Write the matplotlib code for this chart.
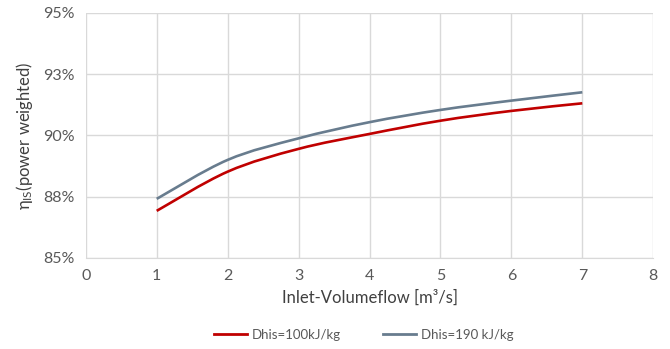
import matplotlib
matplotlib.use("Agg")
import matplotlib.pyplot as plt
import numpy as np
from matplotlib.path import Path
from matplotlib.patches import PathPatch
from matplotlib.lines import Line2D

# values
flow = [1, 2, 3, 4, 5, 6, 7]
eta_100 = [86.92, 88.52, 89.45, 90.06, 90.60, 91.00, 91.31]
eta_190 = [87.41, 89.00, 89.88, 90.54, 91.04, 91.42, 91.76]
y_ticks = [85, 87.5, 90, 92.5, 95]
y_labels = ["85%", "88%", "90%", "93%", "95%"]
x_ticks = [0, 1, 2, 3, 4, 5, 6, 7, 8]

RED = "#C00000"
GRAY = "#687C8E"
TXT = "#595959"

plt.rcParams["font.family"] = ["Lato", "DejaVu Sans"]
plt.rcParams["mathtext.fontset"] = "custom"
plt.rcParams["mathtext.rm"] = "Lato"
plt.rcParams["mathtext.it"] = "Lato"


def smooth_path(x, y, t=1 / 6):
    # Catmull-Rom style bezier through the data points (Excel "smoothed line")
    x = np.asarray(x, float)
    y = np.asarray(y, float)
    verts = [(x[0], y[0])]
    codes = [Path.MOVETO]
    n = len(x)
    for i in range(n - 1):
        x0, y0 = (x[i - 1], y[i - 1]) if i > 0 else (x[i], y[i])
        x3, y3 = (x[i + 2], y[i + 2]) if i + 2 < n else (x[i + 1], y[i + 1])
        c1 = (x[i] + (x[i + 1] - x0) * t, y[i] + (y[i + 1] - y0) * t)
        c2 = (x[i + 1] - (x3 - x[i]) * t, y[i + 1] - (y3 - y[i]) * t)
        verts += [c1, c2, (x[i + 1], y[i + 1])]
        codes += [Path.CURVE4] * 3
    return Path(verts, codes)


fig = plt.figure(figsize=(6.7, 3.49), dpi=100)
ax = fig.add_axes([0.128, 0.261, 0.847, 0.702])

for ys, col in [(eta_100, RED), (eta_190, GRAY)]:
    ax.add_patch(PathPatch(smooth_path(flow, ys), facecolor="none",
                           edgecolor=col, lw=1.9, capstyle="butt", zorder=3))

ax.set_xlim(0, 8)
ax.set_ylim(85, 95)
ax.set_xticks(x_ticks)
ax.set_yticks(y_ticks)
ax.set_yticklabels(y_labels)
ax.grid(True, color="#D9D9D9", lw=1.0)
ax.set_axisbelow(True)
for s in ["top", "right", "left"]:
    ax.spines[s].set_visible(False)
ax.spines["bottom"].set_color("#D9D9D9")
ax.tick_params(length=0, labelsize=11.5, colors=TXT, pad=8)

ax.set_xlabel("Inlet-Volumeflow [m³/s]", fontsize=12, color="#404040", labelpad=5)
ax.set_ylabel(r"$\eta_{\mathrm{IS}}$(power weighted)", fontsize=12, color="#404040", labelpad=6)

handles = [Line2D([], [], color=RED, lw=2), Line2D([], [], color=GRAY, lw=2)]
fig.legend(handles, ["Dhis=100kJ/kg", "Dhis=190 kJ/kg"], loc="center",
           bbox_to_anchor=(0.543, 0.04), ncol=2, frameon=False, fontsize=9.5,
           handlelength=2.5, handletextpad=0.35, columnspacing=3.2, labelcolor=TXT)

fig.savefig("out.png", dpi=100)
